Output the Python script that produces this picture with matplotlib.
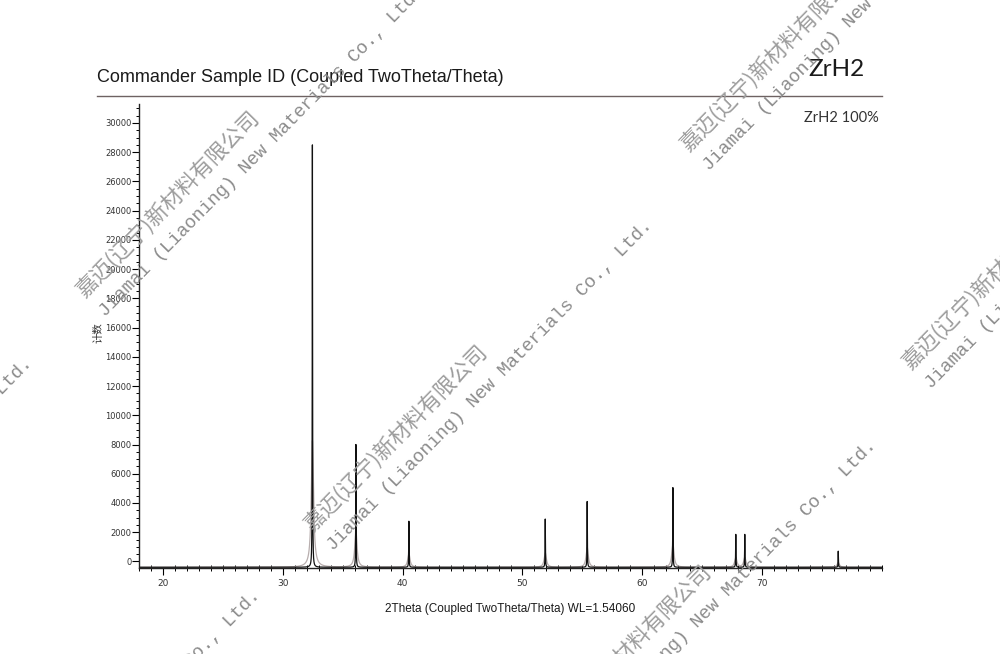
import numpy as np
import matplotlib
matplotlib.use("Agg")
from matplotlib import pyplot as plt
from matplotlib.ticker import MultipleLocator

# peak list (2theta in deg, top of peak in counts)
peak_pos = [32.47, 36.10, 40.52, 51.90, 55.40, 62.55, 67.80, 68.55, 76.35]
peak_top = [28500, 8000, 2750, 2900, 4100, 5050, 1850, 1850, 700]
baseline = -400

x_range = (18, 80)
y_range = (-450, 31300)
y_ticks = list(range(0, 30001, 2000))
x_ticks = [20, 30, 40, 50, 60, 70]

title = "Commander Sample ID (Coupled TwoTheta/Theta)"
sample = "ZrH2"
phase = "ZrH2 100%"
xlabel = "2Theta (Coupled TwoTheta/Theta) WL=1.54060"
ylabel = "计数"

wm_cn = "嘉迈(辽宁)新材料有限公司"
wm_en = "Jiamai (Liaoning) New Materials Co., Ltd."
# start of the chinese line for each watermark block, in pixels (from top-left)
wm_spots = [(84, 298), (312, 532), (688, 152), (910, 370), (536, 752), (-308, 670), (-80, 902)]

W, H = 1000, 654


def profile(tt, fwhm, scale):
    y = np.full_like(tt, baseline, dtype=float)
    for c, top in zip(peak_pos, peak_top):
        h = (top - baseline) * scale
        y += h / (1 + ((tt - c) / (fwhm / 2)) ** 2)
    return y


fig = plt.figure(figsize=(10, 6.54), dpi=100)
ax = fig.add_axes([0.139, 0.1315, 0.743, 0.7095])

tt = np.linspace(x_range[0], x_range[1], 12401)
ax.plot(tt, profile(tt, 0.22, 0.3), color="#b8aeae", lw=0.9)
ax.plot(tt, profile(tt, 0.03, 1.0), color="#111111", lw=0.9)

ax.set_xlim(*x_range)
ax.set_ylim(*y_range)
ax.spines["top"].set_visible(False)
ax.spines["right"].set_visible(False)
for s in ("left", "bottom"):
    ax.spines[s].set_color("#222222")
    ax.spines[s].set_linewidth(1.0)

ax.set_yticks(y_ticks)
ax.yaxis.set_minor_locator(MultipleLocator(500))
ax.set_xticks(x_ticks)
ax.xaxis.set_minor_locator(MultipleLocator(1))
ax.tick_params(axis="y", which="major", direction="out", length=5, width=0.8,
               labelsize=6, labelcolor="#333333", pad=0.5)
ax.tick_params(axis="y", which="minor", direction="out", length=2.5, width=0.7)
ax.tick_params(axis="x", which="major", direction="out", length=5, width=0.8,
               labelsize=6.5, labelcolor="#333333", pad=3)
ax.tick_params(axis="x", which="minor", direction="inout", length=4, width=0.7)

fig.text(0.097, 1 - 82 / H, title, fontsize=13, family="Liberation Sans", color="#1a1a1a", va="baseline")
fig.text(0.808, 1 - 76 / H, sample, fontsize=17.5, family="Lato", color="#1a1a1a", va="baseline")
fig.add_artist(plt.Line2D([0.097, 0.882], [1 - 96 / H, 1 - 96 / H], color="#6e6262", lw=1.0))
fig.text(0.804, 1 - 122 / H, phase, fontsize=10.5, family="Lato", color="#333333", va="baseline")
fig.text(0.510, 1 - 612 / H, xlabel, fontsize=8.5, family="Liberation Sans", color="#1a1a1a",
         ha="center", va="baseline")
fig.text(0.099, 1 - 333 / H, ylabel, fontsize=7.5, family=["Noto Sans CJK SC", "DejaVu Sans"],
         color="#333333", rotation=90, ha="center", va="center")

# watermark
for px, py in wm_spots:
    fig.text(px / W, 1 - py / H, wm_cn, fontsize=15.5, family=["Noto Sans CJK SC", "DejaVu Sans"],
             color="#9c9c9c", rotation=45.5, rotation_mode="anchor", ha="left", va="baseline")
    fig.text((px + 12) / W, 1 - (py + 10) / H, wm_en, fontsize=13.4, family="Liberation Mono",
             color="#8c8c8c", rotation=45.5, rotation_mode="anchor", ha="left", va="top")

fig.savefig("out.png", dpi=100, facecolor="white")
